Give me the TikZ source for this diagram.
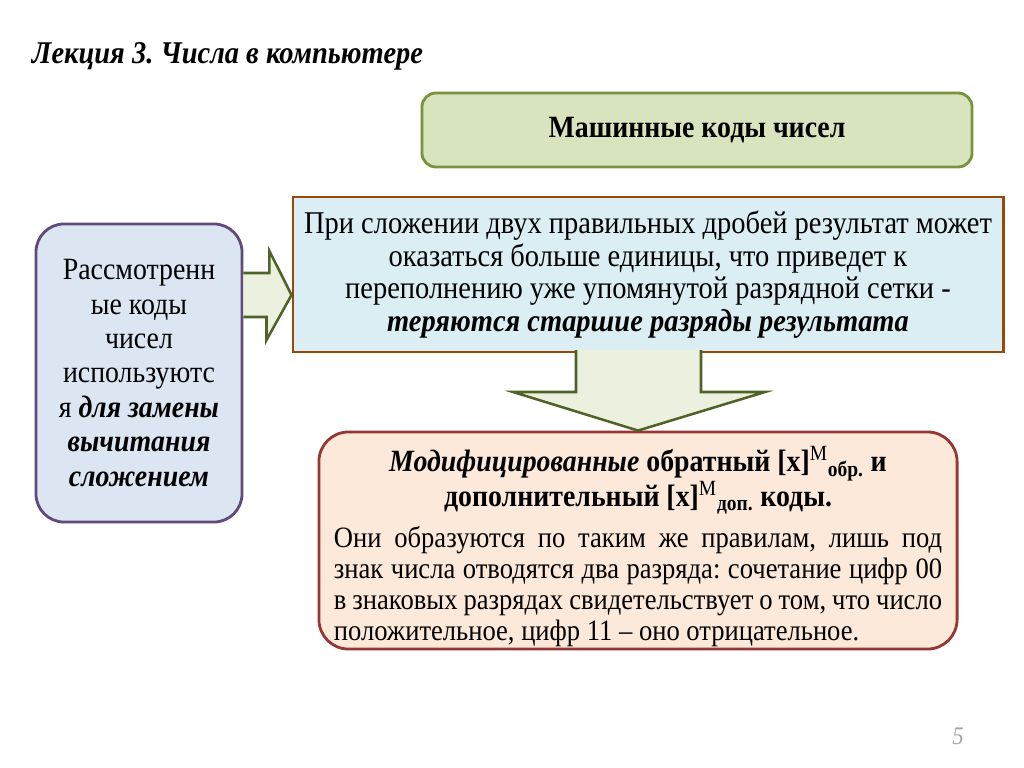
\documentclass[tikz,border=0pt]{standalone}
\usepackage{fontspec}
\setmainfont{Liberation Serif}[FakeStretch=0.9]
\frenchspacing
\usetikzlibrary{calc}
\definecolor{kodGreen}{HTML}{D7E4BD}
\definecolor{kodGreenLine}{HTML}{77933C}
\definecolor{kodBlue}{HTML}{DBEEF4}
\definecolor{kodBlueLine}{HTML}{984807}
\definecolor{kodLilac}{HTML}{DCE6F2}
\definecolor{kodLilacLine}{HTML}{604A7B}
\definecolor{kodPeach}{HTML}{FDE9D9}
\definecolor{kodPeachLine}{HTML}{953735}
\definecolor{kodArrow}{HTML}{EBF1DE}
\definecolor{kodArrowLine}{HTML}{4F6228}
\definecolor{kodgray}{HTML}{A6A6A6}

\begin{document}
\begin{tikzpicture}[x=0.025cm, y=-0.025cm,
  kodbox/.style={line width=2pt, inner sep=0pt, align=center},
  arrowfill/.style={fill=kodArrow},
  arrowline/.style={draw=kodArrowLine, line width=1.8pt, line join=miter}]
\useasboundingbox[fill=white] (0,0) rectangle (1024,768);

\node[anchor=base west, font=\fontsize{22.5}{26}\selectfont\bfseries\itshape] (title) at (27,64) {Лекция 3. Числа в компьютере};

\node[kodbox, draw=kodGreenLine, fill=kodGreen, rounded corners=10pt,
      minimum width=13.75cm, minimum height=1.85cm,
      font=\fontsize{22}{24}\selectfont\bfseries] (machine) at (697,130) {Машинные коды чисел};

\node[kodbox, draw=kodBlueLine, fill=kodBlue,
      minimum width=17.75cm, minimum height=3.875cm,
      font=\fontsize{22.5}{23.2}\selectfont] (overflow) at (648,274.5)
  {При сложении двух правильных дробей результат может\\
   оказаться больше единицы, что приведет к\\
   переполнению уже упомянутой разрядной сетки -\\
   \textbf{\textit{теряются старшие разряды результата}}};

\node[kodbox, draw=kodLilacLine, fill=kodLilac, rounded corners=20pt,
      minimum width=5.15cm, minimum height=7.45cm,
      font=\fontsize{22}{24.5}\selectfont] (considered) at (139,373)
  {Рассмотренн\\ ые коды\\ чисел\\ используютс\\ я \textbf{\textit{для замены}}\\
   \textbf{\textit{вычитания}}\\ \textbf{\textit{сложением}}};

\node[kodbox, draw=kodPeachLine, fill=kodPeach, rounded corners=21pt,
      minimum width=15.95cm, minimum height=5.425cm] (modified) at (638,540.5) {};
\node[text width=15.2cm, align=justify, inner sep=0pt,
      font=\fontsize{21}{22}\selectfont] (modifiedtext) at ($(modified.center)+(0,6)$)
  {{\centering\fontsize{22}{25}\selectfont\bfseries
    \textit{Модифицированные} обратный [x]\textsuperscript{\mdseries М}\textsubscript{обр.} и\\
    дополнительный [x]\textsuperscript{\mdseries М}\textsubscript{доп.} коды.\par}
   \vspace{7pt}
   Они образуются по таким же правилам, лишь под\linebreak
   знак числа отводятся два разряда: сочетание цифр 00\linebreak
   в знаковых разрядах свидетельствует о том, что число\linebreak
   положительное, цифр 11 – оно отрицательное.};

% block arrows
\fill[arrowfill] (considered.east |- 0,273) -- ++(26,0) -- ++(0,-22) -- (overflow.west |- 0,295)
  -- ++(-25,45) -- ++(0,-23) -- (considered.east |- 0,317) -- cycle;
\draw[arrowline] (considered.east |- 0,273) -- ++(26,0) -- ++(0,-22) -- (overflow.west |- 0,295)
  -- ++(-25,45) -- ++(0,-23) -- (considered.east |- 0,317);

\fill[arrowfill] (576,350) -- (576,392) -- (513,392) -- (modified.north) -- (765,392) -- (701,392) -- (701,350) -- cycle;
\draw[arrowline] (576,350) -- (576,392) -- (513,392) -- (modified.north) -- (765,392) -- (701,392) -- (701,350);

\node[text=kodgray, font=\fontsize{18}{20}\selectfont\itshape] (page) at (958,736) {5};
\end{tikzpicture}
\end{document}
